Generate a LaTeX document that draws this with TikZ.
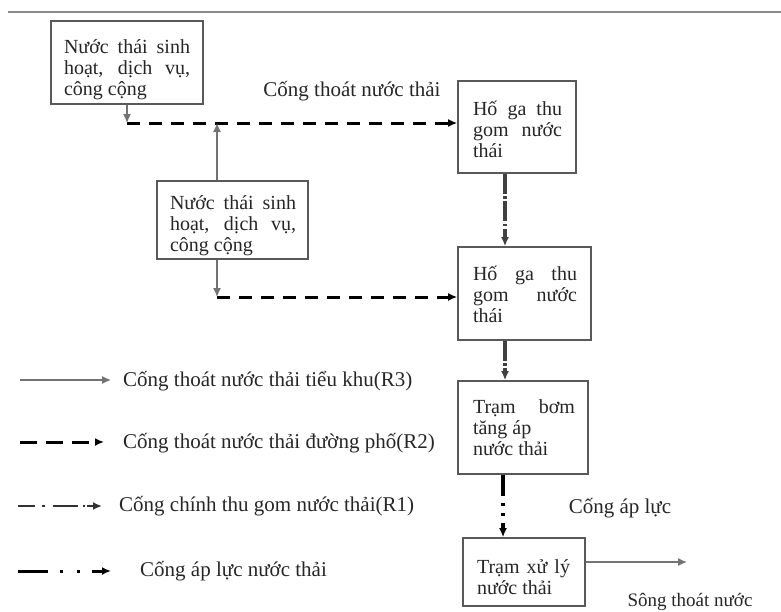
\documentclass[tikz,border=0pt]{standalone}
\usepackage{fontspec}
\setmainfont{Liberation Serif}
\usetikzlibrary{arrows.meta}
\begin{document}
\begin{tikzpicture}[x=1pt,y=-1pt,
  box/.style={draw=black!65, line width=1.6pt, fill=white, inner sep=0pt},
  txt/.style={inner sep=0pt, align=left, text=black!85, font=\fontsize{20}{21}\selectfont},
  lbl/.style={inner sep=0pt, text=black!85, font=\fontsize{21}{22}\selectfont},
  tip/.style={-{Latex[length=9pt,width=8pt]}},
  rthree/.style={tip, draw=black!55, line width=1.3pt},
  rtwo/.style={tip, draw=black, line width=3pt, dash pattern=on 13pt off 9pt},
  rone/.style={tip, draw=black!75, line width=3.5pt, dash pattern=on 20pt off 2.5pt on 2.5pt off 2.5pt},
  rpress/.style={tip, draw=black, line width=4pt, dash pattern=on 21pt off 7pt on 3pt off 7pt on 3pt off 7pt}
]
\useasboundingbox (0,0) rectangle (781,611);
\draw[black!45, line width=1.5pt] (8,12) -- (781,12);

% boxes
\node[box, minimum width=152pt, minimum height=83pt] (A) at (127,62.5) {};
\node[box, minimum width=151pt, minimum height=78pt] (B) at (232.5,220) {};
\node[box, minimum width=118pt, minimum height=92pt] (C) at (517,127) {};
\node[box, minimum width=133pt, minimum height=93pt] (D) at (524.5,293.5) {};
\node[box, minimum width=130pt, minimum height=93pt] (E) at (523,427.5) {};
\node[box, minimum width=122pt, minimum height=68pt] (F) at (524,572) {};

% box texts
\node[txt] (At) at (127,70) {\makebox[126pt][s]{Nước thái sinh}\\\makebox[126pt][s]{hoạt, dịch vụ,}\\\makebox[126pt][l]{công cộng}};
\node[txt] (Bt) at (233,226) {\makebox[126pt][s]{Nước thái sinh}\\\makebox[126pt][s]{hoạt, dịch vụ,}\\\makebox[126pt][l]{công cộng}};
\node[txt] (Ct) at (517.5,129) {\makebox[89pt][s]{Hố ga thu}\\\makebox[89pt][s]{gom nước}\\\makebox[89pt][l]{thái}};
\node[txt] (Dt) at (525,294) {\makebox[104pt][s]{Hố ga thu}\\\makebox[104pt][s]{gom nước}\\\makebox[104pt][l]{thái}};
\node[txt] (Et) at (524,428) {\makebox[102pt][s]{Trạm bơm}\\\makebox[102pt][l]{tăng áp}\\\makebox[102pt][l]{nước thải}};
\node[txt] (Ft) at (523.5,577) {\makebox[93pt][s]{Trạm xử lý}\\\makebox[93pt][l]{nước thải}};

% labels
\node[lbl] (l1) at (352,91) {Cống thoát nước thải};
\node[lbl] (l2) at (620,508) {Cống áp lực};
\node[lbl, font=\fontsize{19}{20}\selectfont] (l3) at (690,602) {Sông thoát nước};

% connectors
\coordinate (j1) at (127,123);
\coordinate (j2) at (217,123);
\coordinate (j3) at (217,297);
\coordinate (k1) at (505,0);
\coordinate (k2) at (503,0);
\coordinate (out) at (687,562);
\draw[rthree] (A.south) -- (j1);
\draw[rtwo] (j1) -- (j1 -| C.west);
\draw[rthree] (B.north -| j2) -- (j2);
\draw[rthree] (B.south -| j3) -- (j3);
\draw[rtwo] (j3) -- (j3 -| D.west);
\draw[rone] (C.south -| k1) -- (D.north -| k1);
\draw[rone] (D.south -| k1) -- (E.north -| k1);
\draw[rpress] (E.south -| k2) -- (F.north -| k2);
\draw[rthree] (F.east |- out) -- (out);

% legend
\coordinate (g1s) at (20,380); \coordinate (g1e) at (111,380);
\coordinate (g2s) at (20,442); \coordinate (g2e) at (104,442);
\coordinate (g3s) at (18,506); \coordinate (g3e) at (102,506);
\coordinate (g4s) at (18,571); \coordinate (g4e) at (111,571);
\draw[rthree] (g1s) -- (g1e);
\draw[tip, draw=black, line width=3pt, dash pattern=on 17pt off 9pt] (g2s) -- (g2e);
\draw[tip, draw=black!80, line width=2.5pt, dash pattern=on 17pt off 7pt on 2.5pt off 8pt on 25pt off 5pt on 2.5pt off 2pt] (g3s) -- (g3e);
\draw[tip, draw=black, line width=3pt, dash pattern=on 30pt off 12pt on 3pt off 14pt on 3pt off 12pt] (g4s) -- (g4e);
\node[lbl, anchor=west] (t1) at (123,381) {Cống thoát nước thải tiểu khu(R3)};
\node[lbl, anchor=west] (t2) at (123,443) {Cống thoát nước thải đường phố(R2)};
\node[lbl, anchor=west] (t3) at (119,506) {Cống chính thu gom nước thải(R1)};
\node[lbl, anchor=west] (t4) at (140,571) {Cống áp lực nước thải};
\end{tikzpicture}
\end{document}
